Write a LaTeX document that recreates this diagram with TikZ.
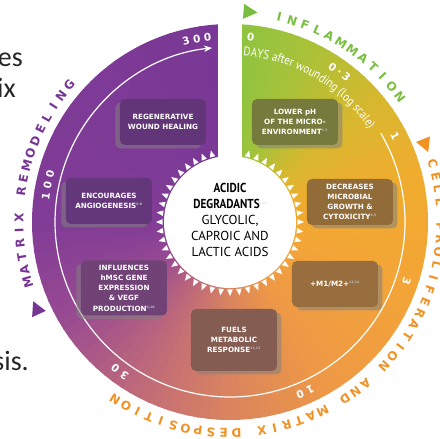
\documentclass[tikz,border=0pt]{standalone}
\usepackage{fontspec}
\setmainfont{PT Sans}
\newfontfamily\ringfamily{DejaVu Sans}
\newfontfamily\hubboldfamily[FakeStretch=0.86]{PT Sans}
\newfontfamily\daysfamily[FakeStretch=0.88]{PT Sans}
\newfontfamily\slidefamily{Carlito}
\usetikzlibrary{shapes.geometric, arrows.meta, shadows, decorations.text}

% wheel colours, clockwise from the top
\definecolor{wheelA}{RGB}{138,196,66}
\definecolor{wheelB}{RGB}{170,194,56}
\definecolor{wheelC}{RGB}{215,184,46}
\definecolor{wheelD}{RGB}{240,172,46}
\definecolor{wheelE}{RGB}{243,165,55}
\definecolor{wheelF}{RGB}{238,152,70}
\definecolor{wheelG}{RGB}{218,132,95}
\definecolor{wheelH}{RGB}{190,105,122}
\definecolor{wheelI}{RGB}{152,74,146}
\definecolor{wheelJ}{RGB}{128,60,150}
\definecolor{wheelK}{RGB}{122,56,150}

\definecolor{inflgreen}{RGB}{122,190,64}
\definecolor{prolorange}{RGB}{240,146,36}
\definecolor{remodpurple}{RGB}{118,52,148}

\definecolor{regenfill}{RGB}{98,52,120}
\definecolor{angiofill}{RGB}{100,54,122}
\definecolor{hmscfill}{RGB}{112,66,118}
\definecolor{fuelsfill}{RGB}{132,92,82}
\definecolor{polarfill}{RGB}{152,110,62}
\definecolor{microbefill}{RGB}{146,108,56}
\definecolor{phfill}{RGB}{118,122,60}

\newcommand{\ringfont}{\ringfamily\bfseries\fontsize{12}{12}\selectfont}
\newcommand{\bandfont}{\ringfamily\bfseries\fontsize{10.5}{10.5}\selectfont}
\newcommand{\boxfont}{\ringfamily\bfseries\fontsize{7.2}{10.2}\selectfont}
\newcommand{\hubfont}{\fontsize{13}{15.8}\selectfont}
\newcommand{\daysfont}{\daysfamily\fontsize{12.5}{12.5}\selectfont}
\newcommand{\slidefont}{\slidefamily\fontsize{28}{28}\selectfont}
\newcommand{\refs}[1]{\textsuperscript{\fontsize{3.2}{3.2}\selectfont\color{white!75!black}#1}}

% letters set one by one round the wheel: name, radius, first angle, step, style, letters
\newcommand{\arcword}[6]{%
  \foreach \ch [count=\i from 0] in {#6}
    \node (#1\i) [#5, rotate={#3-#4*\i-90}] at ({#3-#4*\i}:#2) {\ch};}

\tikzstyle{stage} = [rectangle, rounded corners=5pt, minimum width=85pt, minimum height=46pt, text width=82pt, align=center, text=white, font=\boxfont, inner sep=2pt]
\tikzstyle{stageleft} = [stage, drop shadow={shadow xshift=-4.5pt, shadow yshift=-3.5pt, opacity=.55}]
\tikzstyle{stageright} = [stage, drop shadow={shadow xshift=4.5pt, shadow yshift=-3.5pt, opacity=.55}]
\tikzstyle{ringletter} = [font=\ringfont, inner sep=0pt]
\tikzstyle{daymark} = [font=\bandfont, text=white, inner sep=0pt]
\tikzstyle{phasemark} = [isosceles triangle, isosceles triangle stretches, minimum width=15pt, minimum height=14pt, inner sep=0pt]
\tikzstyle{hub} = [align=center, font=\hubfont, text=black]
\tikzstyle{slide} = [font=\slidefont, text=black!85, inner sep=0pt, anchor=base east]
\tikzstyle{timeline} = [draw=white, line width=1.2pt, ->, >={Stealth[length=8pt,width=6.5pt]}]

\begin{document}
\begin{tikzpicture}[x=1pt, y=1pt]
\useasboundingbox (-230,-217) rectangle (210,222);

% bits of the slide text
\node (slideA) [slide] at (-207,155) {es};
\node (slideB) [slide] at (-214,124) {ix};
\node (slideC) [slide] at (-201,-149) {sis.};

% the wheel
\foreach \a/\b/\ca/\cb in {90/65/wheelA/wheelB, 65/40/wheelB/wheelC, 40/15/wheelC/wheelD, 15/-20/wheelD/wheelE, -20/-60/wheelE/wheelF, -60/-90/wheelF/wheelG, -90/-120/wheelG/wheelH, -120/-150/wheelH/wheelI, -150/-180/wheelI/wheelJ, -180/-270/wheelJ/wheelK}
  \foreach \k in {0,...,9}{
    \pgfmathsetmacro\s{\a+(\b-\a)*\k/10}
    \pgfmathsetmacro\e{\a+(\b-\a)*(\k+1)/10-0.6}
    \pgfmathtruncatemacro\p{10*\k+5}
    \fill[fill={\cb!\p!\ca}] (0,0) -- (\s:198) arc[start angle=\s, end angle=\e, radius=198] -- cycle;
  }
\fill[white] (-12,60) rectangle (12,205);

% phase names outside
\node (markInfl) [phasemark, fill=inflgreen, rotate=85.1-90] at (85.1:211) {};
\node (markProlif) [phasemark, fill=prolorange, rotate=22-90] at (22:210) {};
\node (markRemod) [phasemark, fill=remodpurple, rotate=204.5-90] at (204.5:212) {};
\arcword{infl}{211}{76.5}{3.65}{ringletter, text=inflgreen}{I,N,F,L,A,M,M,A,T,I,O,N}
\arcword{cell}{211}{16}{3.475}{ringletter, text=prolorange}{C,E,L,L}
\arcword{prolif}{211}{16-3.475*5}{3.475}{ringletter, text=prolorange}{P,R,O,L,I,F,E,R,A,T,I,O,N}
\arcword{and}{211}{16-3.475*19}{3.475}{ringletter, text=prolorange}{A,N,D}
\arcword{matrix}{211}{16-3.475*23}{3.475}{ringletter, text=prolorange}{M,A,T,R,I,X}
\arcword{desp}{211}{16-3.475*30}{3.475}{ringletter, text=prolorange}{D,E,S,P,O,S,I,T,I,O,N}
\arcword{remat}{211}{196.6}{3.56}{ringletter, text=remodpurple}{M,A,T,R,I,X}
\arcword{remod}{211}{196.6-3.56*7}{3.56}{ringletter, text=remodpurple}{R,E,M,O,D,E,L,I,N,G}

% time line in days
\draw[timeline] (30.5:175) arc[start angle=30.5, end angle=-264.1, radius=175];
\path[decorate, decoration={text along path, text={|\daysfont|DAYS after wounding (log scale)}, text color=white, text align=left}] (85.5:167) arc[start angle=85.5, end angle=20, radius=167];
\arcword{dayA}{186}{103.7}{3.4}{daymark}{3,0,0}
\arcword{dayB}{186}{172}{3.4}{daymark}{1,0,0}
\arcword{dayC}{186}{235.4}{3.4}{daymark}{3,0}
\arcword{dayD}{186}{-64.4}{3.4}{daymark}{1,0}
\arcword{dayE}{186}{-18.4}{3.4}{daymark}{3}
\arcword{dayF}{186}{27.5}{3.4}{daymark}{1}
\arcword{dayG}{186}{56.5}{2.6}{daymark}{0,.,3}
\arcword{dayH}{186}{83.6}{3.4}{daymark}{0}

% centre
\fill[white] (0,0) circle (66);
\foreach \t in {0,7.5,...,352.5}
  \fill[white] ({\t-2.4}:67.5) -- (\t:74) -- ({\t+2.4}:67.5) -- cycle;
\node (hub) [hub] at (0,2) {{\hubboldfamily\bfseries ACIDIC}\\{\hubboldfamily\bfseries DEGRADANTS}\refs{6-12}\\GLYCOLIC,\\CAPROIC AND\\LACTIC ACIDS};

% effects
\node (regen) [stageleft, fill=regenfill] at (-67,100) {REGENERATIVE\\WOUND HEALING};
\node (angio) [stageleft, fill=angiofill] at (-121,21) {ENCOURAGES\\ANGIOGENESIS\refs{6-8}};
\node (hmsc) [stageleft, fill=hmscfill, minimum height=55pt] at (-106,-66) {INFLUENCES\\hMSC GENE\\EXPRESSION\\\& VEGF\\PRODUCTION\refs{9,10}};
\node (fuels) [stageright, fill=fuelsfill, minimum height=62pt] at (4,-118) {FUELS\\METABOLIC\\RESPONSE\refs{11,12}};
\node (polar) [stageright, fill=polarfill] at (105,-62) {+M1/M2+\refs{13,14}};
\node (microbe) [stageright, fill=microbefill] at (120,20) {DECREASES\\MICROBIAL\\GROWTH \&\\CYTOXICITY\refs{4,5}};
\node (acidph) [stageright, fill=phfill] at (65,100) {LOWER pH\\OF THE MICRO-\\ENVIRONMENT\refs{1-3}};
\end{tikzpicture}
\end{document}
